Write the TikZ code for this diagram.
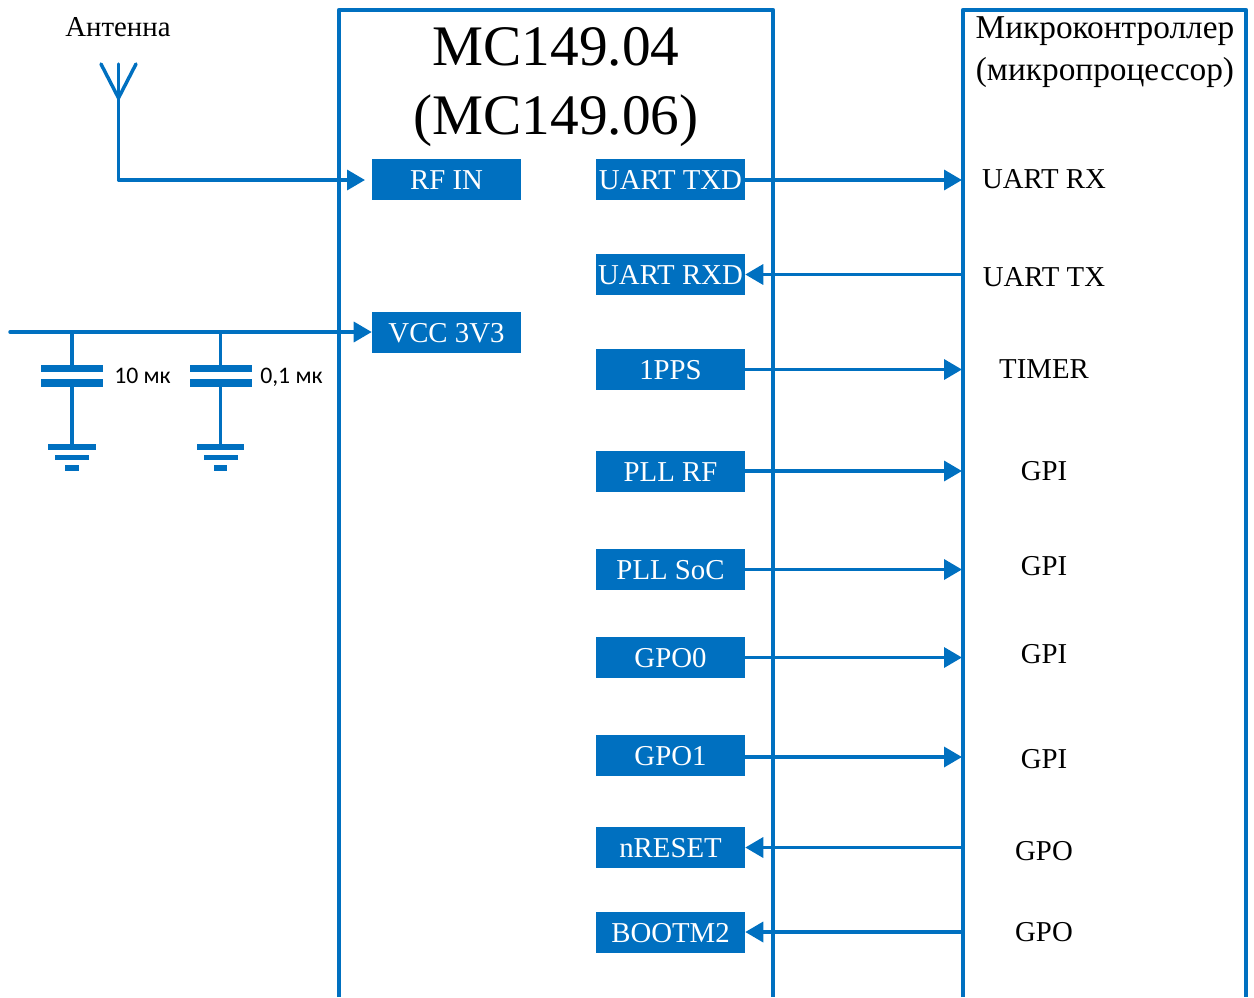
\documentclass[tikz,border=0pt]{standalone}
\usepackage{fontspec}
\setmainfont{Liberation Serif}
\newfontfamily\capfont{Carlito}
\usetikzlibrary{arrows.meta}
\definecolor{bl}{HTML}{0070C0}
\tikzset{
  block/.style={draw=bl,line width=3.4pt,line join=round},
  wire/.style={draw=bl,line width=2.6pt,line join=round},
  arrowline/.style={wire,-{Triangle[length=13.5pt,width=15pt]}},
  pin/.style={fill=bl,text=white,minimum width=111.75pt,minimum height=30.75pt,inner sep=0pt,font=\fontsize{21.6}{24}\selectfont,text height=15pt,text depth=0pt},
  sig/.style={inner sep=0pt,font=\fontsize{21.6}{24}\selectfont,text=black,text height=14.5pt,text depth=0pt},
  plate/.style={fill=bl,inner sep=0pt,minimum width=46.5pt,minimum height=5.6pt},
  gnda/.style={fill=bl,inner sep=0pt,minimum width=35.5pt,minimum height=4.4pt},
  gndb/.style={fill=bl,inner sep=0pt,minimum width=25.5pt,minimum height=4pt},
  gndc/.style={fill=bl,inner sep=0pt,minimum width=10pt,minimum height=4pt},
  caplabel/.style={inner sep=0pt,font=\capfont\fontsize{17.8}{20}\selectfont,text=black,anchor=west,text height=11.5pt,text depth=0pt},
}
\begin{document}
\begin{tikzpicture}[x=0.75pt,y=-0.75pt]
\useasboundingbox (0,0) rectangle (1254,997);
% blocks
\coordinate (mcbl) at (339,997);
\coordinate (mctl) at (339,10);
\coordinate (mctr) at (773,10);
\coordinate (mcbr) at (773,997);
\coordinate (ucbl) at (963,997);
\coordinate (uctl) at (963,10);
\coordinate (uctr) at (1246,10);
\coordinate (ucbr) at (1246,997);
\draw[block] (mcbl) -- (mctl) -- (mctr) -- (mcbr);
\draw[block] (ucbl) -- (uctl) -- (uctr) -- (ucbr);
% titles
\node[inner sep=0pt,align=center,font=\fontsize{43}{52}\selectfont] (title) at (556,87) {MC149.04\\(MC149.06)};
\node[inner sep=0pt,align=center,font=\fontsize{25}{31}\selectfont] (uctitle) at (1105,52) {Микроконтроллер\\(микропроцессор)};
\node[sig] (anttext) at (118,26.5) {Антенна};
% pins
\node[pin] (rfin) at (446.5,179.5) {RF IN};
\node[pin] (vcc) at (446.5,332.5) {VCC 3V3};
\node[pin] (txd) at (670.5,179.5) {UART TXD};
\node[pin] (rxd) at (670.5,274.5) {UART RXD};
\node[pin] (pps) at (670.5,369.5) {1PPS};
\node[pin] (pllrf) at (670.5,471) {PLL RF};
\node[pin] (pllsoc) at (670.5,569.5) {PLL SoC};
\node[pin] (gpoz) at (670.5,657.5) {GPO0};
\node[pin] (gpoo) at (670.5,755.5) {GPO1};
\node[pin] (nreset) at (670.5,847.5) {nRESET};
\node[pin] (bootm) at (670.5,932) {BOOTM2};
% signal labels
\node[sig] (urx) at (1044,178.5) {UART RX};
\node[sig] (utx) at (1044,276.5) {UART TX};
\node[sig] (timer) at (1044,368.5) {TIMER};
\node[sig] (gpia) at (1044,470.5) {GPI};
\node[sig] (gpib) at (1044,565.5) {GPI};
\node[sig] (gpic) at (1044,653.5) {GPI};
\node[sig] (gpid) at (1044,758.5) {GPI};
\node[sig] (gpoa) at (1044,850.5) {GPO};
\node[sig] (gpob) at (1044,931.5) {GPO};
% right connectors
\foreach \p/\y in {txd/180,pps/369.5,pllrf/471,pllsoc/569.5,gpoz/657.5,gpoo/757}{
  \coordinate (e\p) at (962,\y);
  \draw[arrowline] (\p.east |- e\p) -- (e\p);
}
\foreach \p/\y in {rxd/274.5,nreset/847.5,bootm/932}{
  \coordinate (e\p) at (962,\y);
  \draw[arrowline] (e\p) -- (\p.east |- e\p);
}
% antenna
\coordinate (apex) at (118.5,98);
\coordinate (pl) at (101,64);
\coordinate (pm) at (118.5,64);
\coordinate (pr) at (136,64);
\coordinate (corner) at (118.5,180);
\draw[wire,line cap=round] (pl) -- (apex) -- (pr);
\draw[wire,line cap=round] (pm) -- (apex);
\draw[arrowline] (pm) -- (corner) -- (365,180);
% supply
\coordinate (vstart) at (10,332);
\draw[wire,line cap=round,-{Triangle[length=13.5pt,width=15pt]}] (vstart) -- (vcc.west |- vstart);
% capacitor 1
\node[plate] (c1a) at (72,368.5) {};
\node[plate] (c1b) at (72,383) {};
\node[gnda] (g1a) at (72,447) {};
\node[gndb] (g1b) at (72,457.5) {};
\node[gndc] (g1c) at (72,468) {};
\draw[wire] (c1a.north |- vstart) -- (c1a.north);
\draw[wire] (c1b.south) -- (g1a.north);
\node[caplabel] (l1) at (114,376) {10 мк};
% capacitor 2
\node[plate] (c2a) at (220.5,368.5) {};
\node[plate] (c2b) at (220.5,383) {};
\node[gnda] (g2a) at (220.5,447) {};
\node[gndb] (g2b) at (220.5,457.5) {};
\node[gndc] (g2c) at (220.5,468) {};
\draw[wire] (c2a.north |- vstart) -- (c2a.north);
\draw[wire] (c2b.south) -- (g2a.north);
\node[caplabel] (l2) at (260,376) {0,1 мк};
\end{tikzpicture}
\end{document}
